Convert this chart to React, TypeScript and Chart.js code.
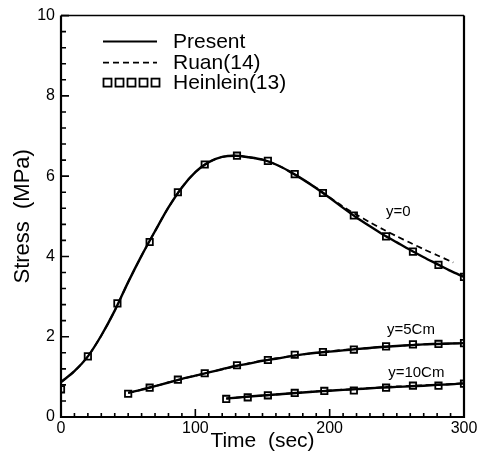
import React, { useEffect, useRef } from "react";
import { Chart, registerables } from "chart.js";

Chart.register(...registerables);

const FONT = "'Liberation Sans', Arial, Helvetica, sans-serif";

// Present (solid)
const presentTime0 = [0, 10, 20, 30, 40, 50, 60, 70, 80, 90, 100, 110, 120, 130, 140, 150, 160, 170, 180, 190, 200, 210, 220, 230, 240, 250, 260, 270, 280, 290, 300];
const presentY0 = [0.87, 1.14, 1.51, 2.03, 2.65, 3.36, 4.02, 4.63, 5.22, 5.72, 6.10, 6.35, 6.48, 6.51, 6.47, 6.41, 6.29, 6.12, 5.92, 5.70, 5.46, 5.21, 4.97, 4.75, 4.54, 4.35, 4.16, 3.98, 3.81, 3.64, 3.49];
const presentTime5 = [50, 60, 70, 80, 90, 100, 110, 120, 130, 140, 150, 160, 170, 180, 190, 200, 210, 220, 230, 240, 250, 260, 270, 280, 290, 300];
const presentY5 = [0.60, 0.68, 0.77, 0.86, 0.95, 1.03, 1.11, 1.19, 1.27, 1.33, 1.40, 1.45, 1.51, 1.56, 1.60, 1.63, 1.66, 1.69, 1.72, 1.75, 1.77, 1.79, 1.81, 1.82, 1.83, 1.84];
const presentTime10 = [123, 130, 140, 150, 160, 170, 180, 190, 200, 210, 220, 230, 240, 250, 260, 270, 280, 290, 300];
const presentY10 = [0.46, 0.48, 0.51, 0.535, 0.56, 0.585, 0.61, 0.635, 0.655, 0.675, 0.695, 0.715, 0.735, 0.75, 0.765, 0.78, 0.80, 0.815, 0.84];

// Ruan(14) (dashed)
const ruanTime0 = [0, 10, 20, 30, 40, 50, 60, 70, 80, 90, 100, 110, 120, 130, 140, 150, 160, 170, 180, 190, 200, 210, 220, 230, 240, 250, 260, 270, 280, 292];
const ruanY0 = [0.87, 1.14, 1.51, 2.03, 2.65, 3.36, 4.02, 4.63, 5.22, 5.72, 6.10, 6.35, 6.48, 6.51, 6.47, 6.41, 6.29, 6.12, 5.92, 5.71, 5.47, 5.24, 5.04, 4.85, 4.67, 4.50, 4.34, 4.18, 4.03, 3.85];
const ruanTime5 = [50, 60, 70, 80, 90, 100, 110, 120, 130, 140, 150, 160, 170, 180, 190, 200, 210, 220, 230, 240, 250, 260, 270, 280, 290, 300];
const ruanY5 = [0.60, 0.68, 0.77, 0.86, 0.95, 1.03, 1.11, 1.19, 1.27, 1.34, 1.40, 1.46, 1.51, 1.56, 1.60, 1.64, 1.67, 1.70, 1.72, 1.75, 1.77, 1.79, 1.81, 1.82, 1.83, 1.84];
const ruanTime10 = [123, 130, 140, 150, 160, 170, 180, 190, 200, 210, 220, 230, 240, 250, 260, 270, 280, 290, 300];
const ruanY10 = [0.46, 0.48, 0.51, 0.535, 0.56, 0.59, 0.615, 0.64, 0.66, 0.68, 0.70, 0.72, 0.745, 0.76, 0.775, 0.79, 0.805, 0.82, 0.84];

// Heinlein(13) (squares)
const heinTime0 = [0, 20, 42, 66, 87, 107, 131, 154, 174, 195, 218, 242, 262, 281, 300];
const heinY0 = [0.69, 1.51, 2.83, 4.36, 5.60, 6.29, 6.51, 6.38, 6.05, 5.58, 5.02, 4.50, 4.12, 3.79, 3.49];
const heinTime5 = [50, 66, 87, 107, 131, 154, 174, 195, 218, 242, 262, 281, 300];
const heinY5 = [0.58, 0.73, 0.93, 1.09, 1.29, 1.42, 1.55, 1.62, 1.68, 1.76, 1.81, 1.82, 1.84];
const heinTime10 = [123, 139, 154, 174, 196, 218, 242, 262, 281, 300];
const heinY10 = [0.45, 0.49, 0.54, 0.60, 0.65, 0.66, 0.73, 0.78, 0.78, 0.83];

// Labels
const legendLabels = ["Present", "Ruan(14)", "Heinlein(13)"];
const curveLabels = ["y=0", "y=5Cm", "y=10Cm"];
const curveLabelTime = [251, 260.5, 264.5];
const curveLabelStress = [5.12, 2.16, 1.11];
const xTitle = "Time  (sec)";
const yTitle = "Stress  (MPa)";

const pts = (xs: number[], ys: number[]) => xs.map((x, i) => ({ x, y: ys[i] }));

const solid = (xs: number[], ys: number[]) => ({
  data: pts(xs, ys),
  borderColor: "#000",
  borderWidth: 2.4,
  pointRadius: 0,
  tension: 0.3,
  fill: false,
  showLine: true,
});
const dashed = (xs: number[], ys: number[]) => ({
  data: pts(xs, ys),
  borderColor: "#000",
  borderWidth: 1.8,
  borderDash: [6, 4],
  pointRadius: 0,
  tension: 0.3,
  fill: false,
  showLine: true,
});
const squares = (xs: number[], ys: number[]) => ({
  data: pts(xs, ys),
  borderColor: "#000",
  backgroundColor: "rgba(0,0,0,0)",
  pointStyle: "rect",
  pointRadius: 4.5,
  pointBorderWidth: 1.8,
  showLine: false,
});

const decorPlugin = {
  id: "decor",
  afterDatasetsDraw(chart: any) {
    const { ctx, chartArea: a, scales } = chart;
    const xs = scales.x;
    const ys = scales.y;
    ctx.save();
    ctx.strokeStyle = "#000";
    ctx.lineCap = "butt";
    // frame
    ctx.lineWidth = 2.2;
    ctx.beginPath();
    ctx.moveTo(a.left, a.top);
    ctx.lineTo(a.left, a.bottom);
    ctx.lineTo(a.right, a.bottom);
    ctx.lineTo(a.right, a.top);
    ctx.stroke();
    ctx.lineWidth = 1.5;
    ctx.beginPath();
    ctx.moveTo(a.left, a.top);
    ctx.lineTo(a.right, a.top);
    ctx.stroke();
    // inward ticks
    ctx.lineWidth = 1.6;
    ctx.beginPath();
    for (let t = 0; t <= 300; t += 10) {
      const px = xs.getPixelForValue(t);
      const len = t % 100 === 0 ? 8 : 4;
      ctx.moveTo(px, a.bottom);
      ctx.lineTo(px, a.bottom - len);
    }
    for (let k = 0; k <= 25; k++) {
      const v = k * 0.4;
      const py = ys.getPixelForValue(v);
      const len = k % 5 === 0 ? 8 : 5;
      ctx.moveTo(a.left, py);
      ctx.lineTo(a.left + len, py);
    }
    ctx.stroke();
    // legend
    const lx0 = a.left + 42;
    const lx1 = a.left + 96;
    const ly = [a.top + 26, a.top + 47, a.top + 67];
    ctx.lineWidth = 2;
    ctx.beginPath();
    ctx.moveTo(lx0, ly[0]);
    ctx.lineTo(lx1, ly[0]);
    ctx.stroke();
    ctx.lineWidth = 1.8;
    ctx.setLineDash([6, 4]);
    ctx.beginPath();
    ctx.moveTo(lx0, ly[1]);
    ctx.lineTo(lx1, ly[1]);
    ctx.stroke();
    ctx.setLineDash([]);
    ctx.lineWidth = 1.8;
    for (let i = 0; i < 5; i++) {
      const cx = lx0 + 4.5 + i * 12;
      ctx.strokeRect(cx - 4, ly[2] - 4, 8, 8);
    }
    ctx.fillStyle = "#000";
    ctx.font = `21px ${FONT}`;
    ctx.textAlign = "left";
    ctx.textBaseline = "middle";
    legendLabels.forEach((s, i) => ctx.fillText(s, a.left + 112, ly[i] + 1));
    // curve labels
    ctx.font = `15px ${FONT}`;
    ctx.textAlign = "center";
    curveLabels.forEach((s, i) => {
      ctx.fillText(s, xs.getPixelForValue(curveLabelTime[i]), ys.getPixelForValue(curveLabelStress[i]));
    });
    ctx.restore();
  },
};

export default function App() {
  const ref = useRef<HTMLCanvasElement>(null);
  useEffect(() => {
    if (!ref.current) return;
    const chart = new Chart(ref.current, {
      type: "line",
      data: {
        datasets: [
          solid(presentTime0, presentY0),
          solid(presentTime5, presentY5),
          solid(presentTime10, presentY10),
          dashed(ruanTime0, ruanY0),
          dashed(ruanTime5, ruanY5),
          dashed(ruanTime10, ruanY10),
          squares(heinTime0, heinY0),
          squares(heinTime5, heinY5),
          squares(heinTime10, heinY10),
        ] as any,
      },
      options: {
        animation: false,
        responsive: false,
        layout: { padding: { top: 13, right: 24, left: 0, bottom: 0 } },
        plugins: { legend: { display: false }, tooltip: { enabled: false } },
        scales: {
          x: {
            type: "linear",
            min: 0,
            max: 300,
            ticks: { stepSize: 100, color: "#000", font: { size: 16, family: FONT }, padding: 2, maxRotation: 0 },
            grid: { display: false, drawTicks: false, tickLength: 0 },
            border: { display: false },
            title: { display: true, text: xTitle, color: "#000", font: { size: 21, family: FONT }, padding: { top: 0, bottom: 2 } },
            afterFit: (s: any) => {
              s.height = 39;
            },
          },
          y: {
            type: "linear",
            min: 0,
            max: 10,
            ticks: { stepSize: 2, color: "#000", font: { size: 16, family: FONT }, padding: 6 },
            grid: { display: false, drawTicks: false, tickLength: 0 },
            border: { display: false },
            title: { display: true, text: yTitle, color: "#000", font: { size: 22, family: FONT }, padding: { top: 10, bottom: 0 } },
            afterFit: (s: any) => {
              s.width = 61;
            },
          },
        },
      },
      plugins: [decorPlugin],
    });
    return () => chart.destroy();
  }, []);
  return (
    <div style={{ position: "absolute", left: 0, top: 0, width: 488, height: 456, background: "#fff" }}>
      <canvas ref={ref} width={488} height={456} style={{ display: "block" }} />
    </div>
  );
}
